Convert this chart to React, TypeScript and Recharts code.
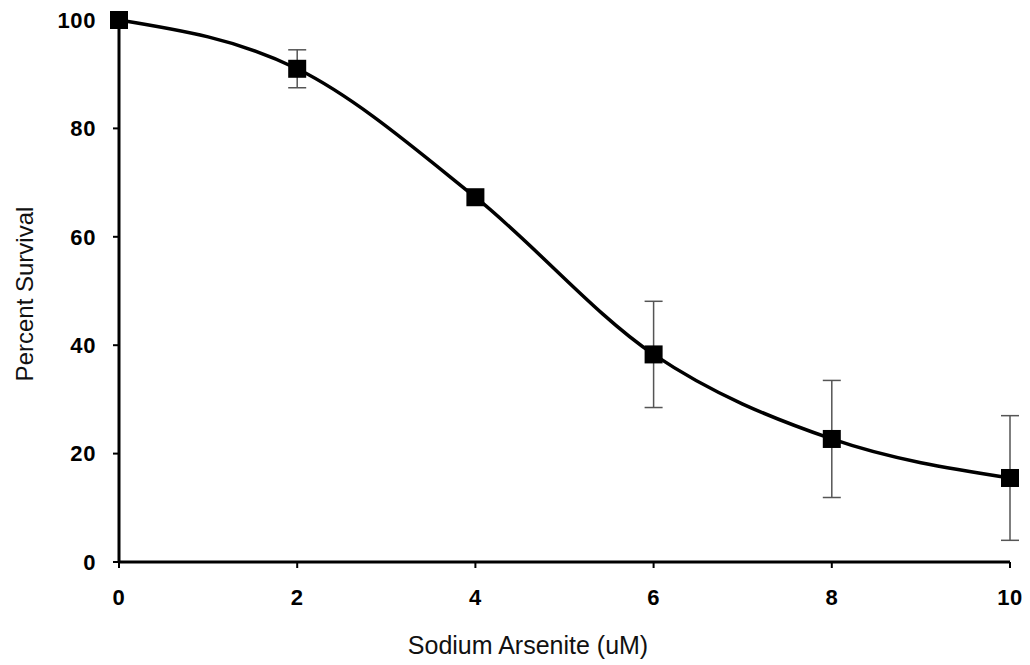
import { LineChart, Line, XAxis, YAxis, ErrorBar } from 'recharts';

// Dosis (uM), Überleben (%), Fehler (±)
const dosen = [0, 2, 4, 6, 8, 10];
const ueberleben = [100, 91, 67.3, 38.3, 22.7, 15.5];
const fehler = [0, 3.5, 0, 9.8, 10.8, 11.5];
const xTicks = [0, 2, 4, 6, 8, 10];
const yTicks = [0, 20, 40, 60, 80, 100];

const daten = dosen.map((d, i) => ({ dosis: d, wert: ueberleben[i], fehler: fehler[i] }));

const FONT = '"Liberation Sans", Arial, sans-serif';
const tickStil = { fontSize: 22, fontWeight: 700, fill: '#000', fontFamily: FONT, letterSpacing: 0.6 };

function Quadrat(props: any) {
  const { cx, cy, index } = props;
  if (cx == null || cy == null) return null;
  return <rect key={`q-${index}`} x={cx - 9} y={cy - 9} width={18} height={18} fill="#000" />;
}

export default function App() {
  return (
    <div style={{ position: 'absolute', left: 0, top: 0, background: '#fff' }}>
      <LineChart width={1030} height={665} data={daten} margin={{ top: 20, right: 20, bottom: 0, left: 0 }}>
        <XAxis
          dataKey="dosis"
          type="number"
          domain={[0, 10]}
          ticks={xTicks}
          height={103}
          tickSize={6}
          tickMargin={21}
          tick={tickStil}
          axisLine={{ stroke: '#000', strokeWidth: 3 }}
          tickLine={{ stroke: '#000', strokeWidth: 2 }}
          label={{
            content: () => (
              <text x={528} y={654} textAnchor="middle" fontSize={25} fontFamily={FONT} fill="#111">
                Sodium Arsenite (uM)
              </text>
            ),
          }}
        />
        <YAxis
          type="number"
          domain={[0, 100]}
          ticks={yTicks}
          width={119}
          tickSize={6}
          tickMargin={17}
          tick={tickStil}
          axisLine={{ stroke: '#000', strokeWidth: 3 }}
          tickLine={{ stroke: '#000', strokeWidth: 2 }}
          label={{
            content: () => (
              <text
                x={0}
                y={0}
                transform="translate(33, 294) rotate(-90)"
                textAnchor="middle"
                fontSize={24}
                fontFamily={FONT}
                fill="#111"
              >
                Percent Survival
              </text>
            ),
          }}
        />
        <Line
          type="monotone"
          dataKey="wert"
          stroke="#000"
          strokeWidth={3.5}
          dot={Quadrat}
          activeDot={false}
          isAnimationActive={false}
        >
          <ErrorBar dataKey="fehler" width={9} stroke="#555" strokeWidth={1.5} direction="y" />
        </Line>
      </LineChart>
    </div>
  );
}
